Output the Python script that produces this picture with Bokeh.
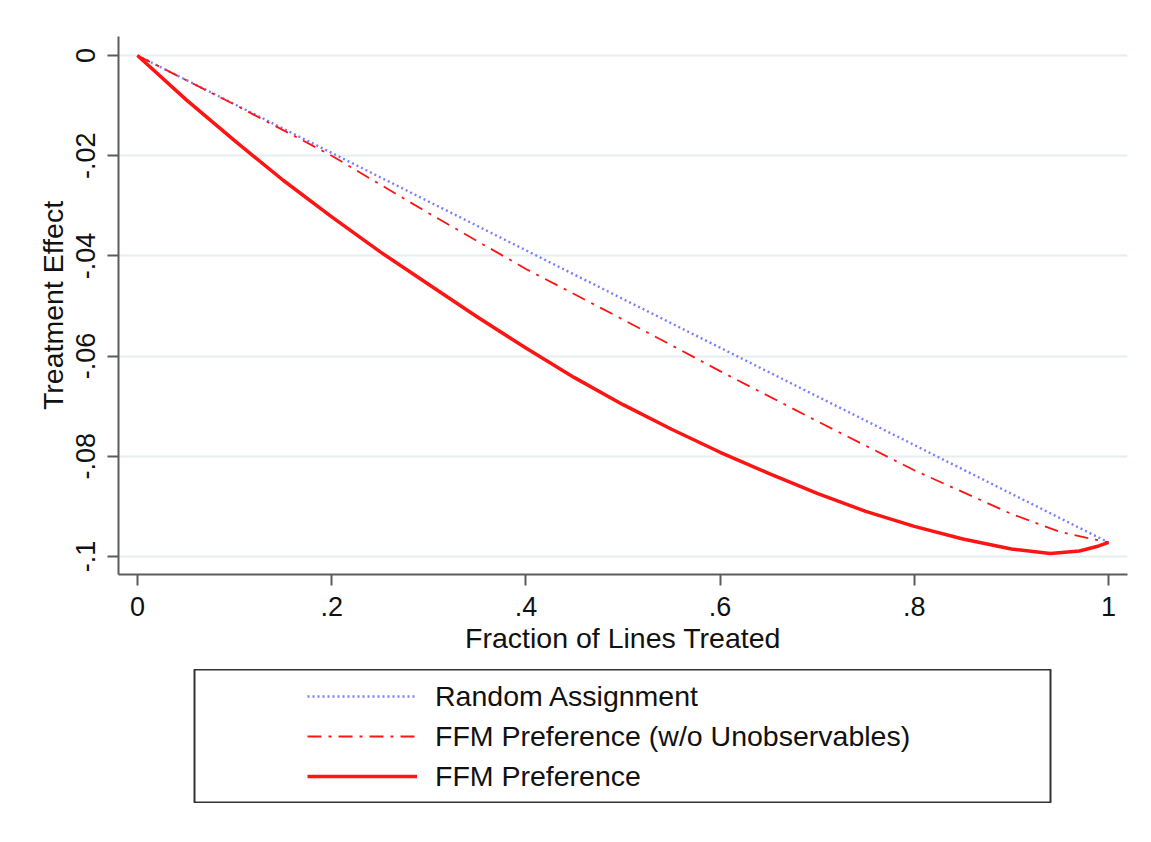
from bokeh.plotting import figure
from bokeh.models import Range1d, FixedTicker, Legend, LegendItem, ColumnDataSource
from bokeh.layouts import column
from bokeh.embed import file_html
from bokeh.resources import INLINE

# ---- data ----
random_x = [0.0, 1.0]
random_y = [0.0, -0.0972]

nounobs_x = [0.0, 0.1, 0.2, 0.3, 0.4, 0.5, 0.6, 0.7, 0.8, 0.9, 0.95, 1.0]
nounobs_y = [0.0, -0.0098, -0.0200, -0.0315, -0.0426, -0.0527, -0.0630, -0.0730, -0.0828,
             -0.0915, -0.0951, -0.0972]

ffm_x = [0.0, 0.05, 0.1, 0.15, 0.2, 0.25, 0.3, 0.35, 0.4, 0.45, 0.5, 0.55, 0.6, 0.65, 0.7,
         0.75, 0.8, 0.85, 0.9, 0.94, 0.97, 0.99, 1.0]
ffm_y = [0.0, -0.0088, -0.0170, -0.0249, -0.0322, -0.0392, -0.0457, -0.0522, -0.0584, -0.0643,
         -0.0697, -0.0746, -0.0792, -0.0834, -0.0874, -0.0910, -0.0940, -0.0965, -0.0985,
         -0.0994, -0.0989, -0.0979, -0.0972]

x_ticks = [0, 0.2, 0.4, 0.6, 0.8, 1]
x_tick_labels = ["0", ".2", ".4", ".6", ".8", "1"]
y_ticks = [0, -0.02, -0.04, -0.06, -0.08, -0.1]
y_tick_labels = ["0", "-.02", "-.04", "-.06", "-.08", "-.1"]

series_names = ["Random Assignment", "FFM Preference (w/o Unobservables)", "FFM Preference"]

FONT = "Liberation Sans"
AXIS_COLOR = "#5c5c5c"
GRID_COLOR = "#e6eef0"
BLUE = "#7d7dff"
RED = "#ff1414"
DOT = "2 3"
DASHDOT = "14 7 3 7"

p = figure(frame_width=1009, frame_height=538,
           x_range=Range1d(-0.01957, 1.01957), y_range=Range1d(-0.1036, 0.0038),
           output_backend="svg", toolbar_location=None,
           min_border_left=118, min_border_right=24, min_border_top=36, min_border_bottom=95)
p.outline_line_color = None
p.background_fill_color = "white"
p.border_fill_color = "white"

p.line(random_x, random_y, line_color=BLUE, line_width=2.4, line_dash=DOT)
p.line(nounobs_x, nounobs_y, line_color=RED, line_width=1.8, line_dash=DASHDOT)
p.line(ffm_x, ffm_y, line_color=RED, line_width=3.5, line_join="round")

p.xgrid.visible = False
p.ygrid.grid_line_color = GRID_COLOR
p.ygrid.grid_line_width = 2
p.ygrid.ticker = FixedTicker(ticks=y_ticks)

p.xaxis.ticker = FixedTicker(ticks=x_ticks)
p.xaxis.major_label_overrides = dict(zip(x_ticks, x_tick_labels))
p.yaxis.ticker = FixedTicker(ticks=y_ticks)
p.yaxis.major_label_overrides = dict(zip(y_ticks, y_tick_labels))
p.yaxis.major_label_orientation = "vertical"

for ax in (p.xaxis[0], p.yaxis[0]):
    ax.axis_line_color = AXIS_COLOR
    ax.axis_line_width = 2
    ax.major_tick_line_color = AXIS_COLOR
    ax.major_tick_line_width = 2
    ax.major_tick_out = 11
    ax.major_tick_in = 0
    ax.minor_tick_line_color = None
    ax.major_label_text_font = FONT
    ax.major_label_text_font_size = "27px"
    ax.major_label_text_color = "#111111"
    ax.axis_label_text_font = FONT
    ax.axis_label_text_font_size = "28.5px"
    ax.axis_label_text_font_style = "normal"
    ax.axis_label_text_color = "#111111"

p.xaxis.axis_label = "Fraction of Lines Treated"
p.yaxis.axis_label = "Treatment Effect"
p.xaxis.major_label_standoff = 11
p.xaxis.axis_label_standoff = 3
p.yaxis.major_label_standoff = 12
p.yaxis.axis_label_standoff = 5

# ---- legend panel (frame aligned with the main plot's frame by the column) ----
lg = figure(width=856 + 118 + 24, height=134, output_backend="svg", toolbar_location=None,
            x_axis_location=None, y_axis_location=None,
            min_border=0, x_range=Range1d(0, 1), y_range=Range1d(0, 1))
lg.margin = (0, 0, 0, 76)
lg.outline_line_color = "#333333"
lg.outline_line_width = 2
lg.grid.visible = False
lg.background_fill_color = "white"
nan = float("nan")
dummy = ColumnDataSource(data=dict(x=[nan], y=[nan]))
l1 = lg.line("x", "y", source=dummy, line_color=BLUE, line_width=2.4, line_dash=DOT)
l2 = lg.line("x", "y", source=dummy, line_color=RED, line_width=1.8, line_dash=DASHDOT)
l3 = lg.line("x", "y", source=dummy, line_color=RED, line_width=3.5)
legend = Legend(items=[LegendItem(label=series_names[0], renderers=[l1]),
                       LegendItem(label=series_names[1], renderers=[l2]),
                       LegendItem(label=series_names[2], renderers=[l3])],
                location=(107, 1), padding=6, spacing=0, glyph_height=40, glyph_width=110,
                label_standoff=18, label_text_font=FONT, label_text_font_size="28.5px",
                label_text_color="#111111", border_line_alpha=0, background_fill_alpha=0)
lg.add_layout(legend)

layout = column(p, lg, spacing=0)
open("out.html", "w").write(file_html(layout, INLINE))
